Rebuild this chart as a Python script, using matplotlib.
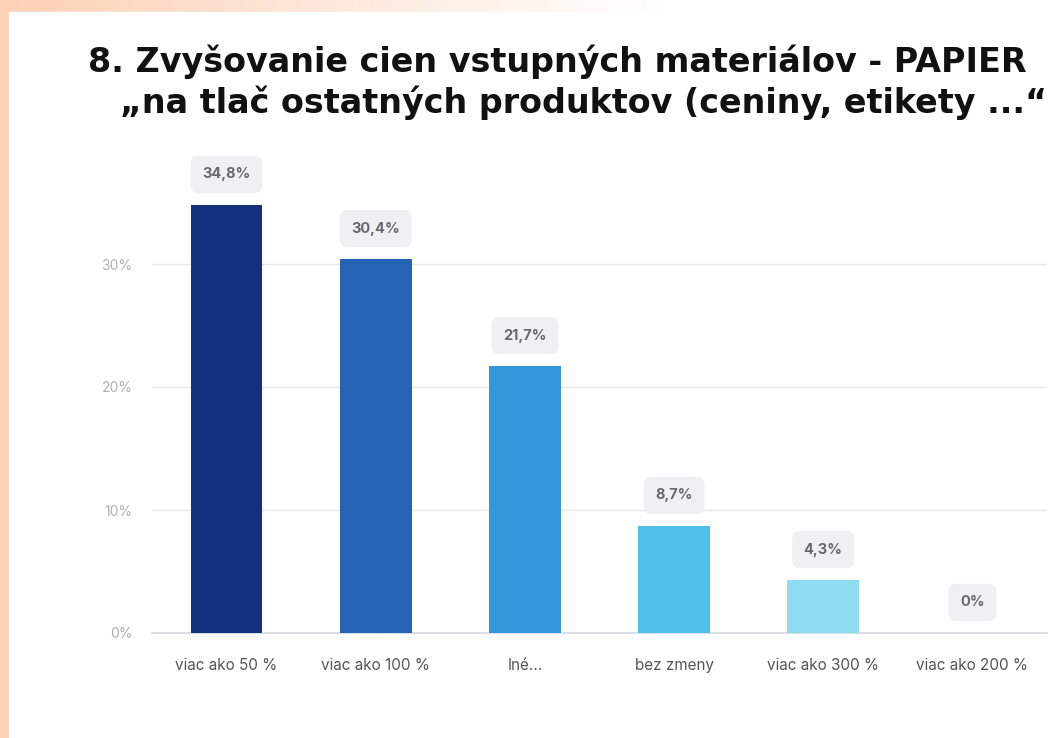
import matplotlib.pyplot as plt
import numpy as np
from matplotlib.patches import Rectangle

categories = ['viac ako 50 %', 'viac ako 100 %', 'Iné...', 'bez zmeny', 'viac ako 300 %', 'viac ako 200 %']
values = [34.8, 30.4, 21.7, 8.7, 4.3, 0.0]
value_labels = ['34,8%', '30,4%', '21,7%', '8,7%', '4,3%', '0%']
bar_colors = ['#13307f', '#2563b4', '#3497dc', '#4fc0ea', '#8ddcf2', '#c9eefa']
y_ticks = [0, 10, 20, 30]
y_tick_labels = ['0%', '10%', '20%', '30%']
title_lines = ['8. Zvyšovanie cien vstupných materiálov - PAPIER',
               '„na tlač ostatných produktov (ceniny, etikety ...“']

W, H = 1058, 738
fig = plt.figure(figsize=(W / 100, H / 100), dpi=100)
fig.patch.set_facecolor('white')

# slide background: peach strip on the left, fading along the top
bg = fig.add_axes([0, 0, 1, 1], zorder=-10)
bg.set_axis_off()
xs = np.linspace(0, 1, 400)
fade = np.clip(1 - xs * 1.6, 0, 1)
peach = np.array([252, 209, 182]) / 255
grad = np.ones((1, 400, 3)) * (1 - fade[None, :, None]) + peach[None, None, :] * fade[None, :, None]
bg.imshow(grad, extent=[0, W, 0, H], aspect='auto')
bg.add_patch(Rectangle((0, 0), 9, H, color=peach))
bg.add_patch(Rectangle((9, 0), W - 9, H - 12, color='white'))
bg.set_xlim(0, W)
bg.set_ylim(0, H)

# title
fig.text(557 / W, 1 - 62 / H, title_lines[0], ha='center', va='center',
         fontsize=24, fontweight='bold', color='#111111', family='DejaVu Sans')
fig.text(584 / W, 1 - 103 / H, title_lines[1], ha='center', va='center',
         fontsize=24, fontweight='bold', color='#111111', family='DejaVu Sans')

zero_px = 633
px_per_unit = 12.3
top_val = 38
ax = fig.add_axes([152 / W, (H - zero_px) / H, 895 / W, top_val * px_per_unit / H])
ax.set_facecolor('none')

x = np.arange(len(categories))
ax.bar(x, values, width=0.48, color=bar_colors, zorder=3)

for xi, v, lab in zip(x, values, value_labels):
    ax.annotate(lab, (xi, v), xytext=(0, 22), textcoords='offset points',
                ha='center', va='center', fontsize=10.5, fontweight='bold',
                color='#666a70', family='Inter',
                bbox=dict(boxstyle='round,pad=0.8,rounding_size=0.55',
                          fc='#eff0f2', ec='none'),
                annotation_clip=False)

ax.set_xlim(-0.5, len(categories) - 0.5)
ax.set_ylim(0, top_val)
ax.set_yticks(y_ticks)
ax.set_yticklabels(y_tick_labels, fontsize=10, color='#b0b0b0', family='Inter')
ax.set_xticks(x)
ax.set_xticklabels(categories, fontsize=11, color='#555555', family='Inter')
ax.tick_params(axis='both', length=0)
ax.tick_params(axis='y', pad=14)
ax.tick_params(axis='x', pad=18)
ax.grid(axis='y', color='#e8e8e8', linewidth=1, zorder=0)
for side in ['top', 'right', 'left']:
    ax.spines[side].set_visible(False)
ax.spines['bottom'].set_color('#d6dae0')
ax.spines['bottom'].set_linewidth(1.2)

fig.savefig('out.png', dpi=100)
